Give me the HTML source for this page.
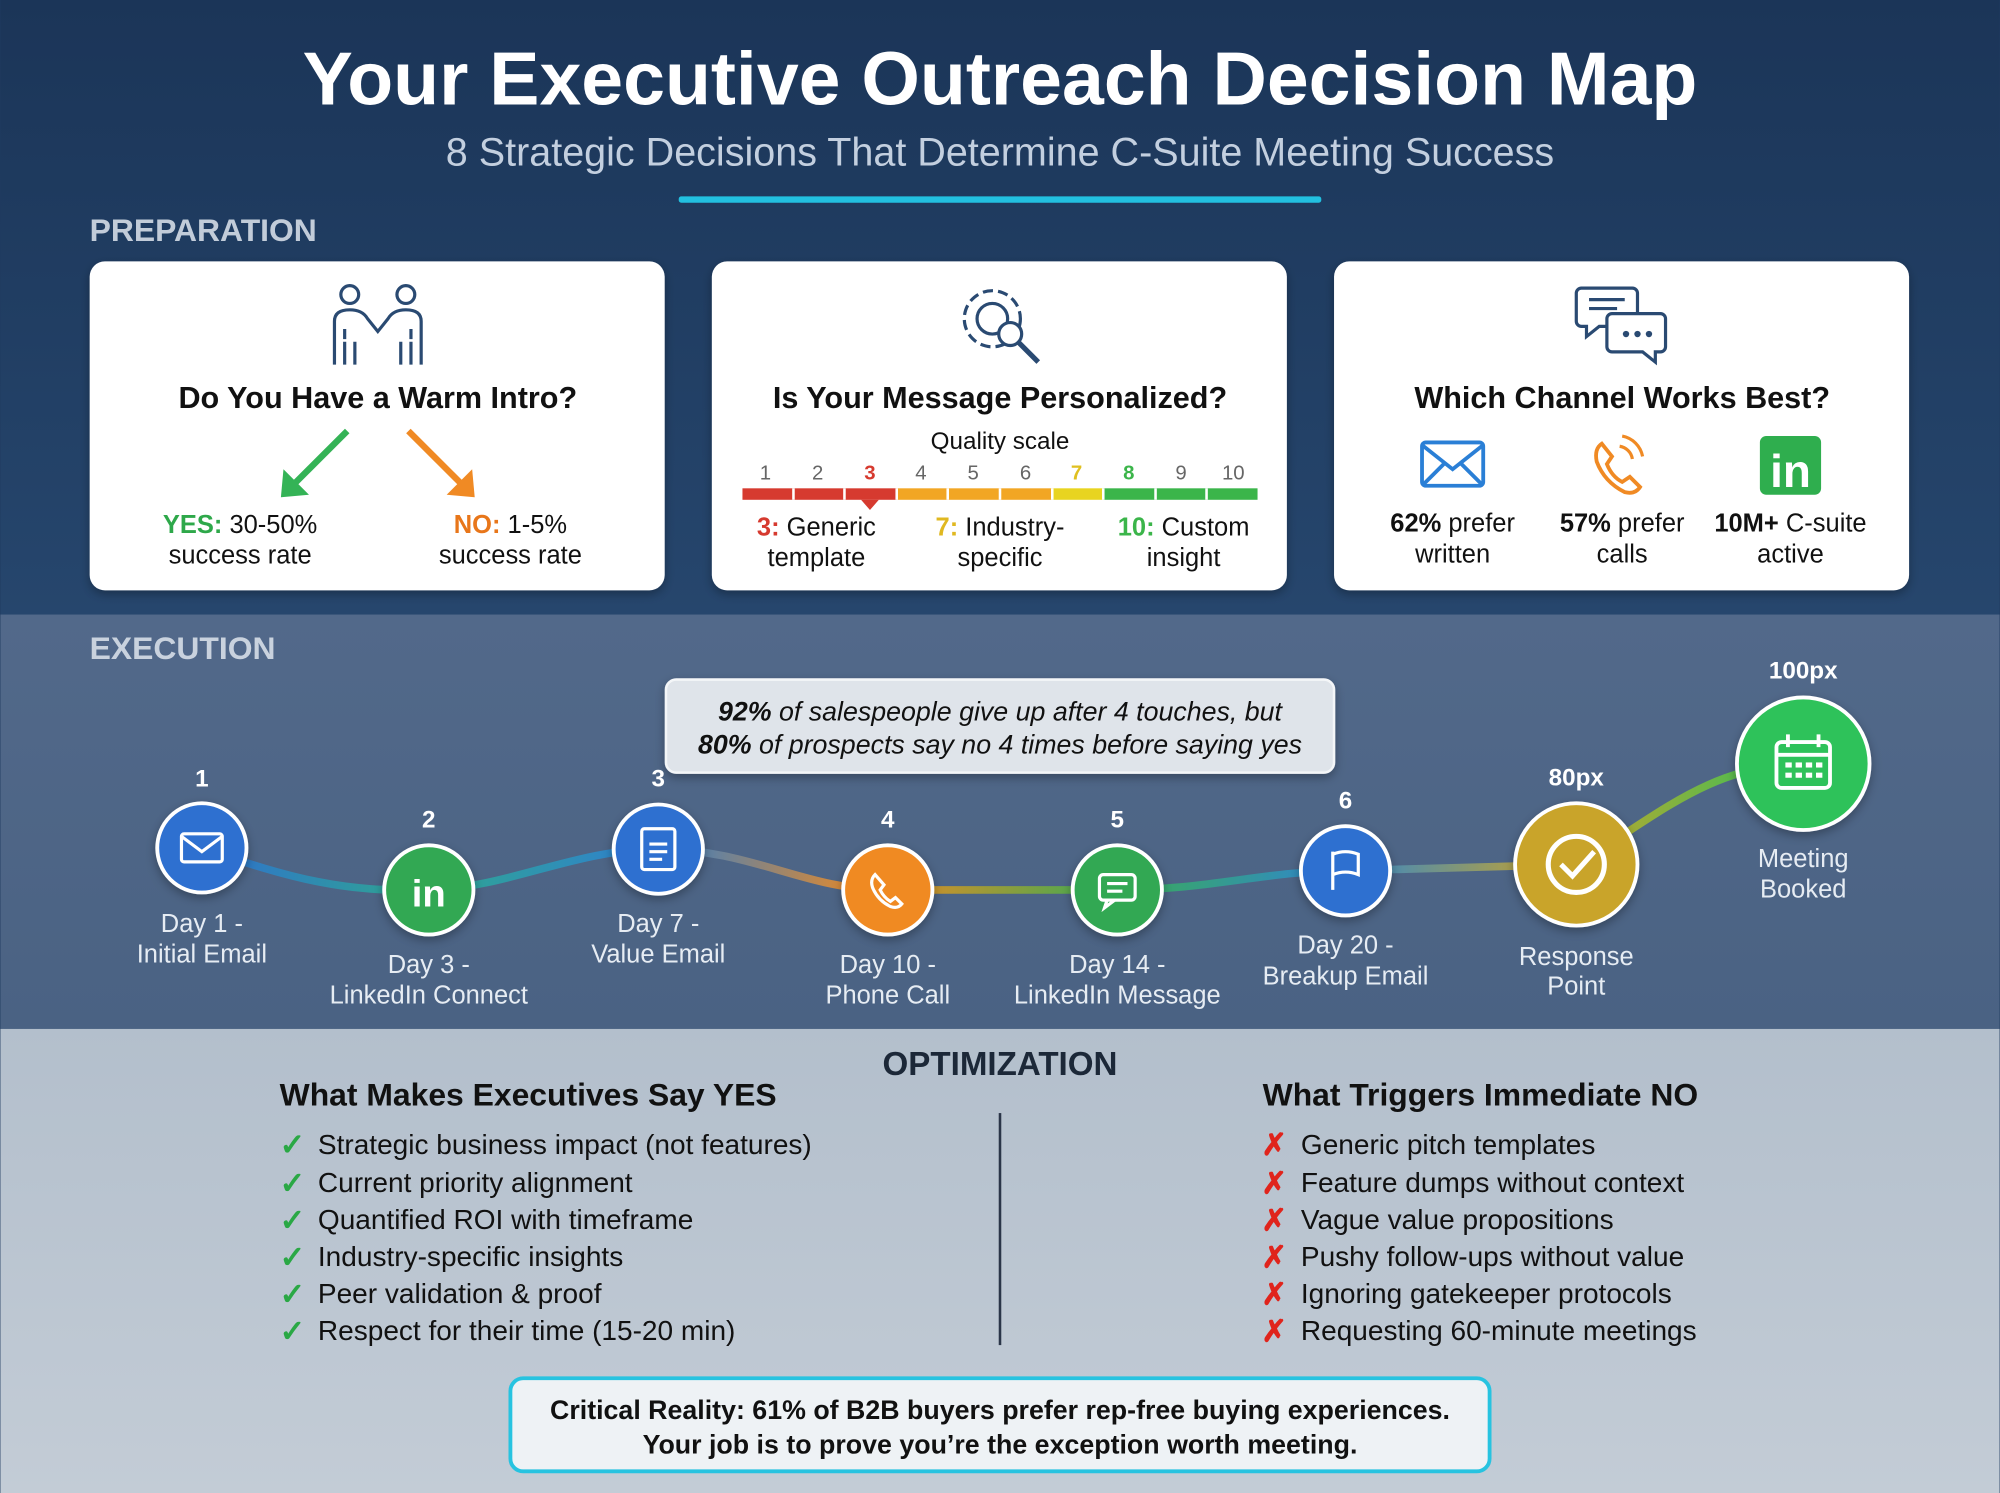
<!DOCTYPE html>
<html><head><meta charset="utf-8"><style>
html,body{margin:0;padding:0;width:2000px;height:1493px;overflow:hidden;background:#1f3a5f}
svg{display:block}
text{font-family:"Liberation Sans",Arial,sans-serif}
</style></head><body>
<svg width="2000" height="1493" viewBox="0 0 1568 1171" xmlns="http://www.w3.org/2000/svg">
<defs>
<linearGradient id="top" x1="0" y1="0" x2="0" y2="1"><stop offset="0" stop-color="#1b3558"/><stop offset="1" stop-color="#26466d"/></linearGradient>
<linearGradient id="mid" x1="0" y1="0" x2="0" y2="1"><stop offset="0" stop-color="#52698a"/><stop offset="1" stop-color="#4a6283"/></linearGradient>
<linearGradient id="bot" x1="0" y1="0" x2="0" y2="1"><stop offset="0" stop-color="#b3bfcc"/><stop offset="1" stop-color="#c3ccd6"/></linearGradient>
<linearGradient id="tl" x1="158" y1="0" x2="1414" y2="0" gradientUnits="userSpaceOnUse">
<stop offset="0" stop-color="#2f6fd0"/><stop offset="0.14" stop-color="#2fa88f"/><stop offset="0.28" stop-color="#2f7fd0"/><stop offset="0.42" stop-color="#f08a20"/><stop offset="0.57" stop-color="#3aad55"/><stop offset="0.71" stop-color="#2f86d0"/><stop offset="0.85" stop-color="#c9a42a"/><stop offset="1" stop-color="#2fc25a"/></linearGradient>
<filter id="sh" x="-10%" y="-10%" width="120%" height="130%"><feDropShadow dx="0" dy="3" stdDeviation="4" flood-opacity="0.3"/></filter>
</defs>
<rect width="1568" height="482" fill="url(#top)"/>
<rect y="482" width="1568" height="325" fill="url(#mid)"/>
<rect y="807" width="1568" height="364" fill="url(#bot)"/>

<text x="784" y="82" text-anchor="middle" font-size="59" font-weight="bold" fill="#fff">Your Executive Outreach Decision Map</text>
<text x="784" y="130" text-anchor="middle" font-size="31" fill="#c3cfdf">8 Strategic Decisions That Determine C-Suite Meeting Success</text>
<rect x="532" y="154" width="504" height="5" rx="2" fill="#22c0e0"/>
<text x="70" y="189" font-size="25" font-weight="bold" fill="#c2ccd9">PREPARATION</text>

<g filter="url(#sh)">
<rect x="70" y="205" width="451" height="258" rx="12" fill="#fff"/>
<rect x="558" y="205" width="451" height="258" rx="12" fill="#fff"/>
<rect x="1046" y="205" width="451" height="258" rx="12" fill="#fff"/>
</g>
<!-- card1 -->
<g stroke="#2a4a72" stroke-width="2.5" fill="none">
<circle cx="274" cy="231" r="7"/><circle cx="318" cy="231" r="7"/>
<path d="M262,286 V252 Q262,243 274,243 Q284,243 288,250 L296,260 L304,250 Q308,243 318,243 Q330,243 330,252 V286"/>
<path d="M270,258 V266 M322,258 V266 M270,268 V286 M278,268 V286 M314,268 V286 M322,268 V286"/>
</g>
<text x="296" y="320" text-anchor="middle" font-size="24" font-weight="bold" fill="#111">Do You Have a Warm Intro?</text>
<g stroke-width="5" fill="none"><path d="M272,338 L228,382" stroke="#34b356"/><path d="M320,338 L364,382" stroke="#f08a24"/></g>
<path d="M220,390 L222,368 L242,388 Z" fill="#34b356"/><path d="M372,390 L350,388 L370,368 Z" fill="#f08a24"/>
<text x="188" y="418" text-anchor="middle" font-size="20" fill="#111"><tspan font-weight="bold" fill="#2ea84a">YES:</tspan> 30-50%</text>
<text x="188" y="442" text-anchor="middle" font-size="20" fill="#111">success rate</text>
<text x="400" y="418" text-anchor="middle" font-size="20" fill="#111"><tspan font-weight="bold" fill="#e8761a">NO:</tspan> 1-5%</text>
<text x="400" y="442" text-anchor="middle" font-size="20" fill="#111">success rate</text>
<!-- card2 -->
<g stroke="#2a4a72" stroke-width="2.5" fill="none">
<circle cx="778" cy="250" r="22" stroke-dasharray="8 4"/><circle cx="778" cy="250" r="12"/>
<circle cx="792" cy="262" r="9" fill="#fff"/><path d="M799,269 L814,284" stroke-width="4"/>
</g>
<text x="784" y="320" text-anchor="middle" font-size="24" font-weight="bold" fill="#111">Is Your Message Personalized?</text>
<text x="784" y="352" text-anchor="middle" font-size="19" fill="#111">Quality scale</text>
<g font-size="16" text-anchor="middle" fill="#666">
<text x="600" y="376">1</text><text x="641" y="376">2</text><text x="682" y="376" fill="#d63a2f" font-weight="bold">3</text><text x="722" y="376">4</text><text x="763" y="376">5</text><text x="804" y="376">6</text><text x="844" y="376" fill="#e0c020" font-weight="bold">7</text><text x="885" y="376" fill="#3bb54a" font-weight="bold">8</text><text x="926" y="376">9</text><text x="967" y="376">10</text></g>
<rect x="582" y="383" width="121" height="9" fill="#d63a2f"/><rect x="703" y="383" width="122" height="9" fill="#f2a624"/><rect x="825" y="383" width="40" height="9" fill="#e8d420"/><rect x="865" y="383" width="121" height="9" fill="#3bb54a"/>
<g stroke="#fff" stroke-width="2"><path d="M622,383v9M662,383v9M703,383v9M743,383v9M784,383v9M825,383v9M865,383v9M906,383v9M946,383v9"/></g>
<path d="M675,392 L689,392 L682,400 Z" fill="#d63a2f"/>
<g font-size="20" text-anchor="middle" fill="#111">
<text x="640" y="420"><tspan fill="#d63a2f" font-weight="bold">3:</tspan> Generic</text><text x="640" y="444">template</text>
<text x="784" y="420"><tspan fill="#e0b820" font-weight="bold">7:</tspan> Industry-</text><text x="784" y="444">specific</text>
<text x="928" y="420"><tspan fill="#3bb54a" font-weight="bold">10:</tspan> Custom</text><text x="928" y="444">insight</text></g>
<!-- card3 -->
<g stroke="#2a4a72" stroke-width="2.5" fill="#fff">
<path d="M1240,226 h40 a4,4 0 0 1 4,4 v22 a4,4 0 0 1 -4,4 h-26 l-10,8 v-8 h-4 a4,4 0 0 1 -4,-4 v-22 a4,4 0 0 1 4,-4z"/>
<path d="M1264,246 h38 a4,4 0 0 1 4,4 v22 a4,4 0 0 1 -4,4 h-4 v8 l-10,-8 h-24 a4,4 0 0 1 -4,-4 v-22 a4,4 0 0 1 4,-4z"/>
<path d="M1246,235h28M1246,242h22" fill="none"/></g>
<g fill="#2a4a72"><circle cx="1275" cy="262" r="2.5"/><circle cx="1284" cy="262" r="2.5"/><circle cx="1293" cy="262" r="2.5"/></g>
<text x="1272" y="320" text-anchor="middle" font-size="24" font-weight="bold" fill="#111">Which Channel Works Best?</text>
<g fill="none" stroke="#2a7fd6" stroke-width="3"><rect x="1115" y="347" width="48" height="34" rx="3"/><path d="M1115,349 L1139,368 L1163,349 M1115,381 L1132,364 M1163,381 L1146,364"/></g>
<path d="M1256,348 q-6,4 -4,14 q6,16 22,24 q8,2 12,-4 l-8,-8 l-6,4 q-8,-4 -12,-14 l4,-6 z" fill="none" stroke="#f08a24" stroke-width="3"/>
<path d="M1270,350 a12,12 0 0 1 10,10 M1272,342 a20,20 0 0 1 16,16" fill="none" stroke="#f08a24" stroke-width="2.5"/>
<rect x="1380" y="342" width="48" height="46" rx="5" fill="#2fae4e"/>
<text x="1404" y="382" text-anchor="middle" font-size="36" font-weight="bold" fill="#fff">in</text>
<g font-size="20" text-anchor="middle" fill="#111">
<text x="1139" y="417"><tspan font-weight="bold">62%</tspan> prefer</text><text x="1139" y="441">written</text>
<text x="1272" y="417"><tspan font-weight="bold">57%</tspan> prefer</text><text x="1272" y="441">calls</text>
<text x="1404" y="417"><tspan font-weight="bold">10M+</tspan> C-suite</text><text x="1404" y="441">active</text></g>

<!-- execution -->
<text x="70" y="517" font-size="25" font-weight="bold" fill="#c9d2de">EXECUTION</text>
<rect x="522" y="533" width="524" height="73" rx="8" fill="#dfe4ea" stroke="#f4f6f8" stroke-width="2" filter="url(#sh)"/>
<text x="784" y="565" text-anchor="middle" font-size="21" font-style="italic" fill="#111"><tspan font-weight="bold">92%</tspan> of salespeople give up after 4 touches, but</text>
<text x="784" y="591" text-anchor="middle" font-size="21" font-style="italic" fill="#111"><tspan font-weight="bold">80%</tspan> of prospects say no 4 times before saying yes</text>
<path d="M158,665 C230,690 270,700 336,698 C400,696 450,666 516,666 C590,666 630,698 696,698 L876,698 C950,698 990,683 1055,683 L1236,678 C1300,640 1340,600 1414,599" fill="none" stroke="url(#tl)" stroke-width="6"/>
<g stroke="#fff" stroke-width="3" filter="url(#sh)">
<circle cx="158" cy="665" r="35" fill="#2f6fd0"/><circle cx="336" cy="698" r="35" fill="#33a852"/><circle cx="516" cy="666" r="35" fill="#2f6fd0"/><circle cx="696" cy="698" r="35" fill="#f08a20"/><circle cx="876" cy="698" r="35" fill="#33a852"/><circle cx="1055" cy="683" r="35" fill="#2f6fd0"/><circle cx="1236" cy="678" r="48" fill="#c9a42a"/><circle cx="1414" cy="599" r="52" fill="#2fc25a"/></g>
<g fill="none" stroke="#fff" stroke-width="2.5">
<rect x="142" y="654" width="32" height="22" rx="2"/><path d="M142,656 L158,668 L174,656"/>
<rect x="503" y="650" width="26" height="32" rx="2"/><path d="M509,662h14M509,668h14M509,674h10"/>
<path d="M686,686 q-4,4 -2,10 q4,10 14,15 q6,2 9,-2 l-5,-5 l-4,3 q-5,-3 -8,-9 l3,-4 z"/>
<rect x="862" y="686" width="28" height="20" rx="3"/><path d="M868,706 l-2,6 l8,-6 M868,693h16M868,699h12"/>
<path d="M1045,698 V668 M1045,670 q10,-4 20,0 v16 q-10,-4 -20,0"/>
<circle cx="1236" cy="678" r="22" stroke-width="4"/><path d="M1224,678 l9,9 l17,-19" stroke-width="4"/>
<rect x="1393" y="582" width="42" height="36" rx="4" stroke-width="3"/><path d="M1393,592h42M1402,576v10M1426,576v10" stroke-width="3"/></g>
<g fill="#fff"><rect x="1400" y="598" width="5" height="4"/><rect x="1408" y="598" width="5" height="4"/><rect x="1416" y="598" width="5" height="4"/><rect x="1424" y="598" width="5" height="4"/><rect x="1400" y="606" width="5" height="4"/><rect x="1408" y="606" width="5" height="4"/><rect x="1416" y="606" width="5" height="4"/><rect x="1424" y="606" width="5" height="4"/></g>
<text x="336" y="711" text-anchor="middle" font-size="30" font-weight="bold" fill="#fff">in</text>
<g font-size="19" font-weight="bold" text-anchor="middle" fill="#fff">
<text x="158" y="617">1</text><text x="336" y="649">2</text><text x="516" y="617">3</text><text x="696" y="649">4</text><text x="876" y="649">5</text><text x="1055" y="634">6</text><text x="1236" y="616">80px</text><text x="1414" y="532">100px</text></g>
<g font-size="20" text-anchor="middle" fill="#e6ecf3">
<text x="158" y="731">Day 1 -</text><text x="158" y="755">Initial Email</text>
<text x="336" y="763">Day 3 -</text><text x="336" y="787">LinkedIn Connect</text>
<text x="516" y="731">Day 7 -</text><text x="516" y="755">Value Email</text>
<text x="696" y="763">Day 10 -</text><text x="696" y="787">Phone Call</text>
<text x="876" y="763">Day 14 -</text><text x="876" y="787">LinkedIn Message</text>
<text x="1055" y="748">Day 20 -</text><text x="1055" y="772">Breakup Email</text>
<text x="1236" y="757">Response</text><text x="1236" y="780">Point</text>
<text x="1414" y="680">Meeting</text><text x="1414" y="704">Booked</text></g>

<!-- optimization -->
<text x="784" y="843" text-anchor="middle" font-size="26" font-weight="bold" fill="#1c2838">OPTIMIZATION</text>
<text x="219" y="867" font-size="25" font-weight="bold" fill="#111">What Makes Executives Say YES</text>
<text x="990" y="867" font-size="25" font-weight="bold" fill="#111">What Triggers Immediate NO</text>
<rect x="783" y="873" width="2" height="182" fill="#2a3548"/>
<g font-size="22" fill="#111">
<text x="249" y="905">Strategic business impact (not features)</text>
<text x="249" y="935">Current priority alignment</text>
<text x="249" y="964">Quantified ROI with timeframe</text>
<text x="249" y="993">Industry-specific insights</text>
<text x="249" y="1022">Peer validation &amp; proof</text>
<text x="249" y="1051">Respect for their time (15-20 min)</text>
<text x="1020" y="905">Generic pitch templates</text>
<text x="1020" y="935">Feature dumps without context</text>
<text x="1020" y="964">Vague value propositions</text>
<text x="1020" y="993">Pushy follow-ups without value</text>
<text x="1020" y="1022">Ignoring gatekeeper protocols</text>
<text x="1020" y="1051">Requesting 60-minute meetings</text></g>
<g font-size="24" font-weight="bold" fill="#2aa845">
<text x="219" y="906">✓</text><text x="219" y="936">✓</text><text x="219" y="965">✓</text><text x="219" y="994">✓</text><text x="219" y="1023">✓</text><text x="219" y="1052">✓</text></g>
<g font-size="24" font-weight="bold" fill="#e0241c">
<text x="989" y="906">✗</text><text x="989" y="936">✗</text><text x="989" y="965">✗</text><text x="989" y="994">✗</text><text x="989" y="1023">✗</text><text x="989" y="1052">✗</text></g>
<rect x="400" y="1081" width="768" height="73" rx="10" fill="#eef2f5" stroke="#27c3e0" stroke-width="3"/>
<text x="784" y="1113" text-anchor="middle" font-size="21" font-weight="bold" fill="#111">Critical Reality: 61% of B2B buyers prefer rep-free buying experiences.</text>
<text x="784" y="1140" text-anchor="middle" font-size="21" font-weight="bold" fill="#111">Your job is to prove you’re the exception worth meeting.</text>
</svg>
</body></html>
